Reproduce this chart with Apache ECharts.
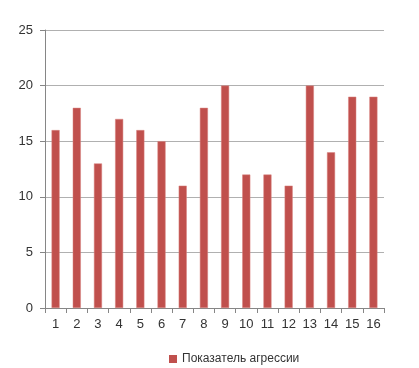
<!DOCTYPE html>
<html><head><meta charset="utf-8">
<script src="https://cdn.jsdelivr.net/npm/echarts@6/dist/echarts.min.js"></script>
<style>html,body{margin:0;padding:0;background:#fff}#c{width:419px;height:368px}</style>
</head><body><div id="c"></div>
<script>
var categories = ['1','2','3','4','5','6','7','8','9','10','11','12','13','14','15','16'];
var seriesName = 'Показатель агрессии';
var values = [16, 18, 13, 17, 16, 15, 11, 18, 20, 12, 12, 11, 20, 14, 19, 19];
var yTicks = [0, 5, 10, 15, 20, 25];

var chart = echarts.init(document.getElementById('c'), null, {renderer: 'canvas'});
chart.setOption({
  animation: false,
  grid: {left: 45, right: 35, top: 30, bottom: 60},
  legend: {
    top: 348, left: 164, itemWidth: 8, itemHeight: 8, icon: 'rect', itemGap: 3,
    itemStyle: {borderWidth: 0},
    textStyle: {fontFamily: 'Liberation Sans', fontSize: 12, color: '#333'},
    data: [seriesName]
  },
  xAxis: {
    type: 'category', data: categories,
    axisLine: {lineStyle: {color: '#868686'}},
    axisTick: {show: true, alignWithLabel: false, length: 5, lineStyle: {color: '#868686'}},
    axisLabel: {color: '#333', fontFamily: 'Liberation Sans', fontSize: 13, margin: 10}
  },
  yAxis: {
    type: 'value', min: yTicks[0], max: yTicks[yTicks.length - 1], interval: 5,
    axisLine: {show: true, lineStyle: {color: '#868686'}},
    axisTick: {show: true, length: 5, lineStyle: {color: '#868686'}},
    splitLine: {lineStyle: {color: '#b0b0b0'}},
    axisLabel: {color: '#333', fontFamily: 'Liberation Sans', fontSize: 13, margin: 12}
  },
  series: [{
    name: seriesName, type: 'bar', data: values, barWidth: '38%',
    itemStyle: {color: '#C0504D', borderColor: '#D9817E', borderWidth: 0.5}
  }]
});
</script></body></html>
